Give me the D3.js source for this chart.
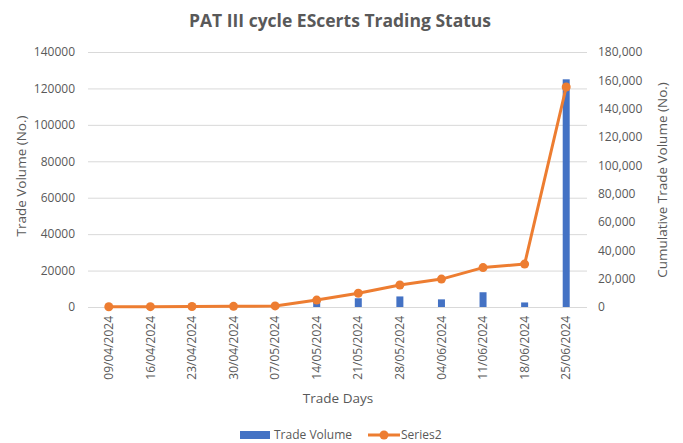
<!DOCTYPE html>
<html>
<head>
<meta charset="utf-8">
<script src="https://cdn.jsdelivr.net/npm/d3@7"></script>
<style>
  body { margin: 0; background: #fff; }
  text { font-family: "Open Sans", sans-serif; fill: #595959; }
</style>
</head>
<body>
<div id="container"></div>
<script>
// trade days on the x axis
let tradeDays = ["09/04/2024", "16/04/2024", "23/04/2024", "30/04/2024", "07/05/2024", "14/05/2024",
  "21/05/2024", "28/05/2024", "04/06/2024", "11/06/2024", "18/06/2024", "25/06/2024"];
// bars, left axis
let tradeVolume = [150, 100, 80, 120, 300, 3900, 4800, 5800, 4200, 8100, 2500, 125000];
// line, right axis
let cumulativeVolume = [150, 250, 330, 450, 750, 4900, 9700, 15500, 19700, 27800, 30300, 155300];

let leftTicks = [0, 20000, 40000, 60000, 80000, 100000, 120000, 140000];
let rightTicks = [0, 20000, 40000, 60000, 80000, 100000, 120000, 140000, 160000, 180000];

let w = 683;
let h = 443;

let viz = d3.select("#container")
  .append("svg")
    .attr("width", w)
    .attr("height", h)
    .style("background-color", "white")
;

let plotLeft = 88;
let plotRight = 587;
let plotTop = 52;
let plotBottom = 307;

let xScale = d3.scaleBand().domain(tradeDays).range([plotLeft, plotRight]);
let yLeft = d3.scaleLinear().domain([0, 140000]).range([plotBottom, plotTop]);
let yRight = d3.scaleLinear().domain([0, 180000]).range([plotBottom, plotTop]);

// gridlines (left axis)
viz.selectAll(".grid").data(leftTicks).enter()
  .append("line")
    .attr("class", "grid")
    .attr("x1", plotLeft)
    .attr("x2", plotRight)
    .attr("y1", d => yLeft(d) + 0.5)
    .attr("y2", d => yLeft(d) + 0.5)
    .style("stroke", "#d9d9d9")
    .style("stroke-width", 1)
;

// left axis
let leftAxis = d3.axisLeft(yLeft).tickValues(leftTicks).tickSize(0).tickPadding(13).tickFormat(d3.format("d"));
let gl = viz.append("g").attr("transform", "translate(" + plotLeft + ",0)").call(leftAxis);
gl.select(".domain").remove();
gl.selectAll("text").style("font-size", "12px").style("fill", "#595959");

// right axis
let rightAxis = d3.axisRight(yRight).tickValues(rightTicks).tickSize(0).tickPadding(11).tickFormat(d3.format(","));
let gr = viz.append("g").attr("transform", "translate(" + plotRight + ",0)").call(rightAxis);
gr.select(".domain").remove();
gr.selectAll("text").style("font-size", "12px").style("fill", "#595959");

// x axis labels, rotated
let gx = viz.append("g").attr("transform", "translate(0," + plotBottom + ")")
  .call(d3.axisBottom(xScale).tickSize(0).tickPadding(0));
gx.select(".domain").remove();
gx.selectAll("text")
  .attr("transform", "rotate(-90)")
  .attr("x", -9)
  .attr("y", 0)
  .attr("dy", "0.35em")
  .style("text-anchor", "end")
  .style("font-size", "12px")
  .style("fill", "#595959")
;

// bars
let barWidth = 7;
viz.selectAll(".bar").data(tradeVolume).enter()
  .append("rect")
    .attr("class", "bar")
    .attr("x", (d, i) => xScale(tradeDays[i]) + xScale.bandwidth() / 2 - barWidth / 2)
    .attr("y", d => yLeft(d))
    .attr("width", barWidth)
    .attr("height", d => plotBottom - yLeft(d))
    .style("fill", "#4472c4")
;

// cumulative line
let line = d3.line()
  .x((d, i) => xScale(tradeDays[i]) + xScale.bandwidth() / 2)
  .y(d => yRight(d));

viz.append("path")
  .datum(cumulativeVolume)
  .attr("d", line)
  .style("fill", "none")
  .style("stroke", "#ed7d31")
  .style("stroke-width", 3)
  .style("stroke-linejoin", "round")
;

viz.selectAll(".dot").data(cumulativeVolume).enter()
  .append("circle")
    .attr("class", "dot")
    .attr("cx", (d, i) => xScale(tradeDays[i]) + xScale.bandwidth() / 2)
    .attr("cy", d => yRight(d))
    .attr("r", 4.5)
    .style("fill", "#ed7d31")
;

// title
viz.append("text")
  .text("PAT III cycle EScerts Trading Status")
  .attr("x", 340)
  .attr("y", 27)
  .style("text-anchor", "middle")
  .style("font-size", "17.5px")
  .style("font-weight", "bold")
;

// axis titles
viz.append("text")
  .text("Trade Volume (No.)")
  .attr("transform", "translate(21,176) rotate(-90)")
  .attr("dy", "0.35em")
  .style("text-anchor", "middle")
  .style("font-size", "13.5px")
;
viz.append("text")
  .text("Cumulative Trade Volume (No.)")
  .attr("transform", "translate(662,180) rotate(-90)")
  .attr("dy", "0.35em")
  .style("text-anchor", "middle")
  .style("font-size", "13.5px")
;
viz.append("text")
  .text("Trade Days")
  .attr("x", 338)
  .attr("y", 398)
  .attr("dy", "0.35em")
  .style("text-anchor", "middle")
  .style("font-size", "13.5px")
;

// legend
let legend = viz.append("g").attr("transform", "translate(0,435)");
legend.append("rect")
  .attr("x", 240).attr("y", -4).attr("width", 30).attr("height", 8)
  .style("fill", "#4472c4");
legend.append("text")
  .text("Trade Volume")
  .attr("x", 274).attr("dy", "0.35em")
  .style("font-size", "12px");
legend.append("line")
  .attr("x1", 368).attr("x2", 400).attr("y1", 0).attr("y2", 0)
  .style("stroke", "#ed7d31").style("stroke-width", 3);
legend.append("circle")
  .attr("cx", 384).attr("cy", 0).attr("r", 4.5)
  .style("fill", "#ed7d31");
legend.append("text")
  .text("Series2")
  .attr("x", 401).attr("dy", "0.35em")
  .style("font-size", "12px");
</script>
</body>
</html>
